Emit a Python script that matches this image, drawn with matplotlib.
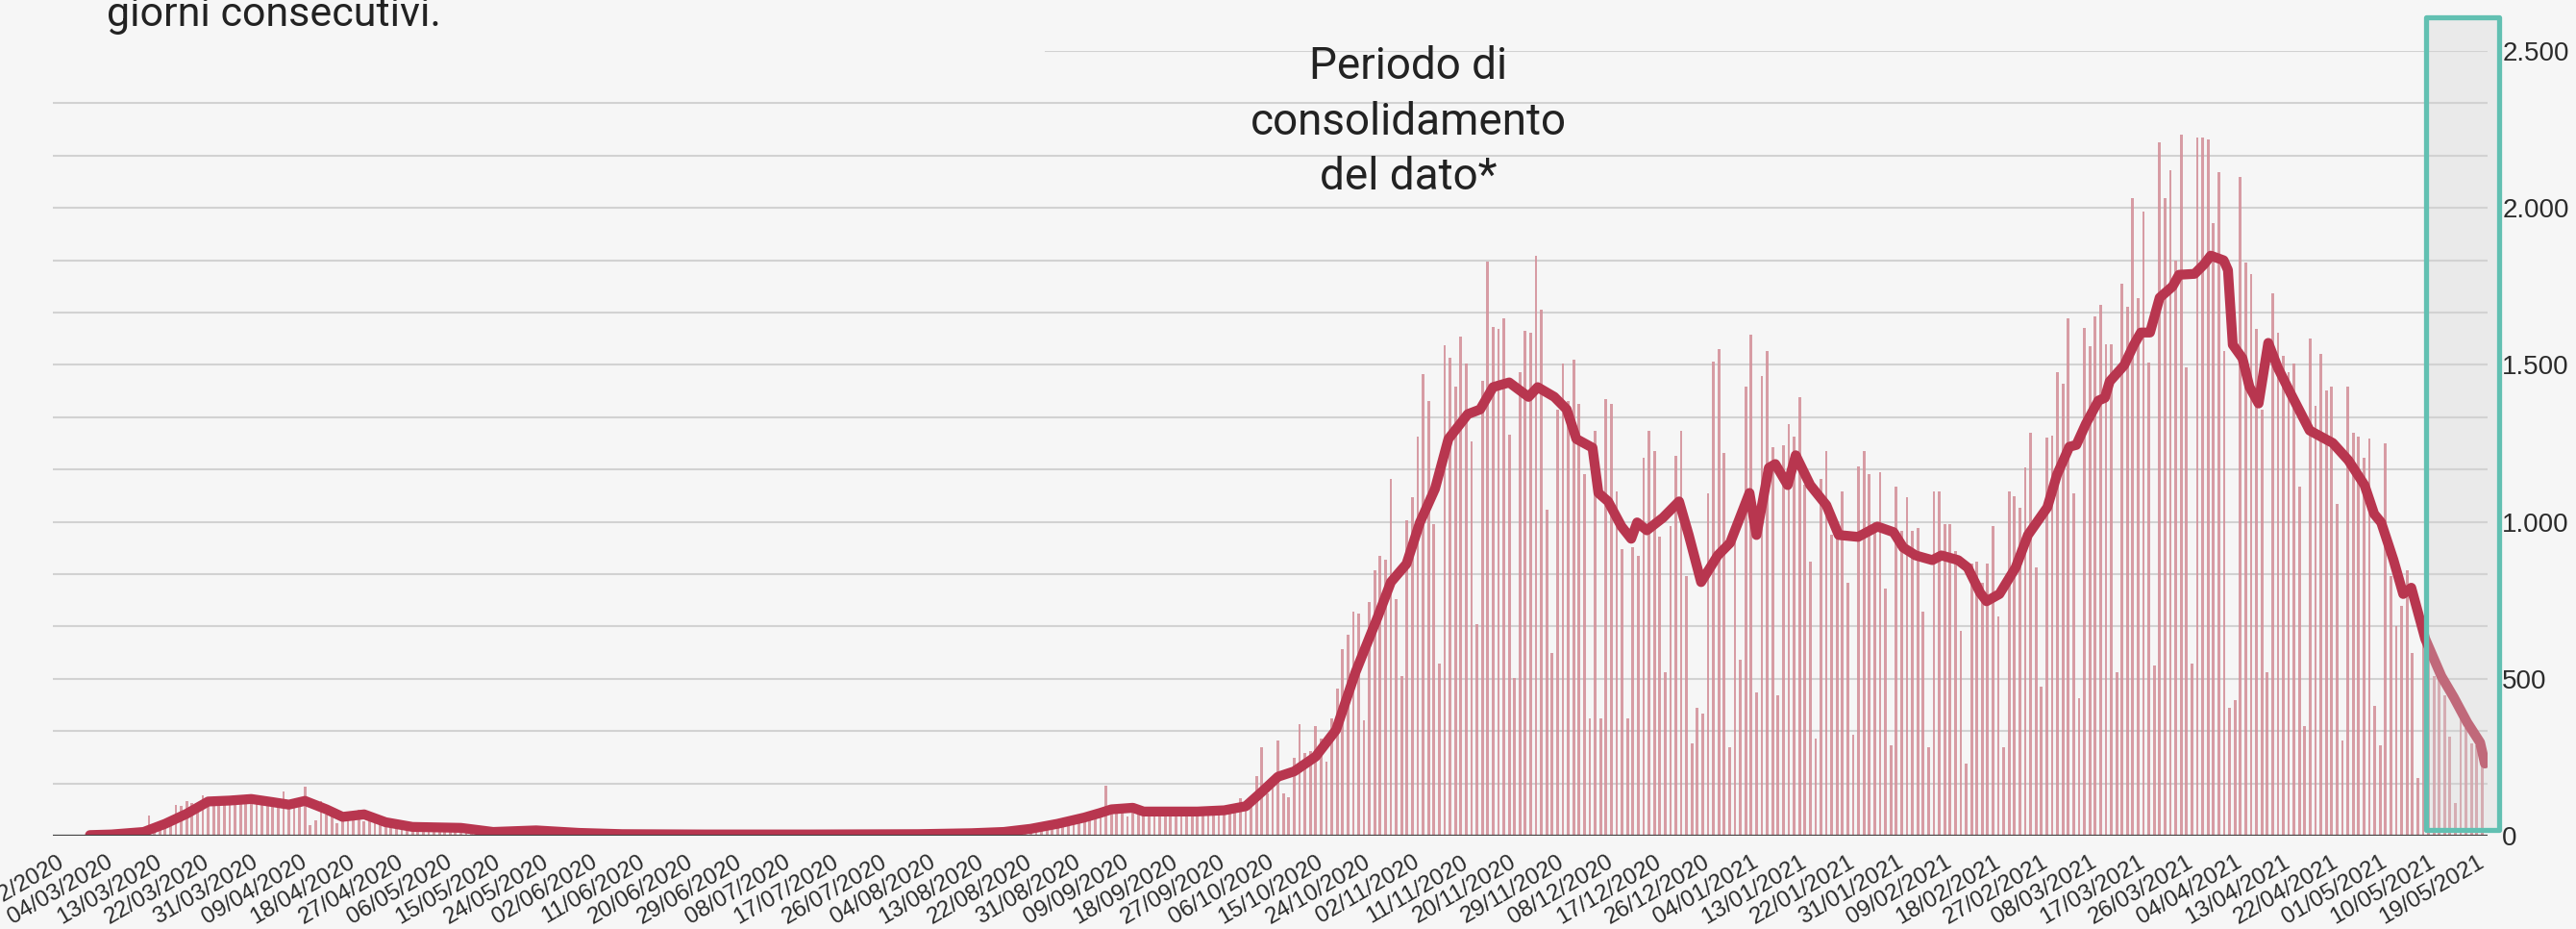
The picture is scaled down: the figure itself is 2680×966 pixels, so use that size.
import numpy as np
import pandas as pd
import matplotlib
matplotlib.use("Agg")
import matplotlib.pyplot as plt
from matplotlib.patches import Rectangle
from matplotlib.colors import to_rgba

W, H = 2680, 966
BG = "#f6f6f6"

# ---- Data ----
start_date = "24/02/2020"

# daily values, one per day starting 24/02/2020
daily_values = [
    0, 0, 1, 0, 0, 1, 2, 1, 2, 3,
    4, 3, 6, 8, 10, 12, 15, 63, 24, 30,
    52, 46, 99, 94, 109, 104, 82, 130, 118, 112,
    114, 106, 120, 110, 118, 124, 108, 122, 114, 104,
    98, 106, 140, 92, 108, 118, 155, 33, 48, 110,
    68, 72, 40, 55, 62, 58, 84, 46, 50, 40,
    36, 42, 30, 28, 25, 34, 22, 30, 26, 20,
    24, 28, 22, 18, 30, 26, 20, 15, 12, 10,
    10, 12, 8, 14, 18, 20, 15, 16, 12, 10,
    8, 10, 9, 6, 8, 7, 10, 5, 6, 5,
    4, 6, 5, 3, 5, 4, 6, 3, 4, 5,
    3, 5, 4, 2, 4, 3, 5, 4, 3, 4,
    2, 4, 3, 5, 3, 4, 2, 3, 4, 3,
    4, 3, 5, 2, 4, 3, 4, 5, 3, 4,
    3, 4, 6, 3, 5, 4, 3, 5, 6, 4,
    5, 4, 6, 5, 3, 6, 5, 4, 7, 6,
    5, 7, 6, 4, 8, 6, 7, 9, 8, 6,
    9, 8, 11, 7, 12, 10, 14, 18, 20, 22,
    28, 32, 30, 38, 42, 40, 50, 55, 50, 62,
    58, 68, 75, 60, 88, 160, 92, 95, 98, 62,
    82, 75, 80, 72, 78, 65, 80, 85, 70, 82,
    62, 76, 84, 90, 74, 86, 88, 70, 96, 102,
    118, 112,
    # 14/10/2020 ->
    110, 189, 282, 136, 163, 302, 136, 123, 249, 355, 262, 269, 348, 309, 236, 375,
    468, 594, 640, 713, 707, 368, 746, 846, 892, 879, 1138, 753, 508, 1005, 1078,
    1271, 1470, 1384, 992, 548, 1563, 1523, 1430, 1589, 1503, 1257, 674, 1450, 1828,
    1622, 1616,
    1649, 1277, 501, 1476, 1609, 1602, 1848, 1675, 1038, 581, 1357, 1503, 1384, 1516,
    1377, 1151, 375, 1291, 375, 1390, 1377, 1098, 912, 375, 919, 892, 1204, 1291, 1224,
    952, 521, 985, 1211, 1291, 826, 295, 408, 388, 1092, 1510, 1549, 1218, 282, 946,
    561, 1430,
    1596, 455, 1463, 1543, 1238, 448, 1244, 1311, 1271, 1397, 1118, 873, 309, 1138,
    1224, 959, 946, 1098, 806, 322, 1178, 1224, 1151, 999, 1158, 786, 289, 1111, 972,
    1078, 972, 979, 713, 282, 1098, 1098, 992, 992, 906, 654, 229, 866, 873, 806, 866,
    985, 700,
    283, 1098, 1083, 1046, 1172, 1284, 854, 475, 1269, 1276, 1476, 1439, 1647, 1091,
    438, 1617, 1558, 1654, 1691, 1565, 1565, 520, 1758, 1684, 2032, 1714, 1988, 1506,
    542, 2210, 2032, 2121, 1832, 2233, 1491, 549, 2225, 2225, 2218, 1951, 2114, 1543,
    409, 431, 2099, 1825, 1788,
    1616, 1357, 521, 1729, 1602, 1529, 1476, 1503, 1112, 348, 1583, 1370, 1536, 1417,
    1430, 1058, 302, 1430, 1284, 1271, 1204, 1264, 415, 289, 1251, 826, 667, 733, 846,
    581, 183, 614, 560, 508, 501, 448, 315, 103, 382, 342, 295, 289, 281,
]

# moving average line: (days since 24/02/2020, value)
avg_days = [
    6, 10, 16, 20, 24, 28, 32, 36, 40, 43, 46, 50, 53, 57, 61, 66, 75, 81, 89, 97,
    105, 120, 140, 160, 170, 176, 181, 186, 191, 194, 196, 200, 202, 212, 217, 221,
    224, 227, 230, 234, 237.8, 241.4, 245.5, 248, 250.9, 253.4, 256.2, 258.7, 262.3,
    264.6, 267, 270, 273.6, 275.3, 278.4, 280.7, 282.5, 285.5, 286.6, 288.4, 290.9,
    292.7, 293.8, 295.6, 298.6, 301.6, 303.4, 305.7, 308.8, 311.1, 314.7, 316,
    318.3, 319.5, 321.8, 323.3, 326, 329, 331.3, 334.9, 338.5, 341.5, 343.3, 345.6,
    348.7, 350.4, 353.5, 355.3, 357.6, 358.8, 361.2, 364.2, 366.5, 370.1, 371.9,
    374.2, 375.5, 377.3, 379.6, 380.8, 381.7, 384.4, 386.2, 387.5, 389.2, 391,
    393.4, 394.6, 397.5, 399.3, 400.5, 402.9, 403.7, 404.6, 406.4, 407.7, 409.4,
    411.2, 413, 415.3, 418.9, 423.2, 426.1, 429.1, 430.9, 432.2, 434.5, 436.3,
    437.8, 440.4, 443.4, 445.7, 448.2, 450.6, 451.5,
]
avg_values = [
    2, 4, 12, 38, 70, 109, 112, 117, 107, 99, 111, 84, 60, 68, 43, 28, 25, 12, 17, 9,
    5, 4, 4, 5, 8, 12, 22, 38, 58, 73, 84, 89, 77, 77, 81, 94,
    140, 188, 205, 252, 337, 520, 695, 808, 866, 998, 1105, 1264, 1343,
    1358, 1429, 1444, 1398, 1429, 1398, 1358, 1264, 1236, 1092, 1065, 985,
    946, 998, 973, 1013, 1065, 958, 808, 893, 933, 1092, 958,
    1172, 1184, 1117, 1212, 1117, 1053, 958, 952, 985, 967, 918, 893,
    878, 893, 878, 854, 774, 747, 770, 854, 958, 1046, 1150,
    1239, 1245, 1313, 1386, 1395, 1447, 1499, 1564, 1603, 1603, 1714,
    1750, 1787, 1790, 1821, 1848, 1833, 1802, 1564, 1521, 1430, 1377,
    1570, 1490, 1411, 1291, 1251, 1196, 1117, 1025, 998, 878, 770,
    790, 627, 508, 441, 361, 297, 230,
]

tick_labels = [
    "24/02/2020", "04/03/2020", "13/03/2020", "22/03/2020", "31/03/2020",
    "09/04/2020", "18/04/2020", "27/04/2020", "06/05/2020", "15/05/2020",
    "24/05/2020", "02/06/2020", "11/06/2020", "20/06/2020", "29/06/2020",
    "08/07/2020", "17/07/2020", "26/07/2020", "04/08/2020", "13/08/2020",
    "22/08/2020", "31/08/2020", "09/09/2020", "18/09/2020", "27/09/2020",
    "06/10/2020", "15/10/2020", "24/10/2020", "02/11/2020", "11/11/2020",
    "20/11/2020", "29/11/2020", "08/12/2020", "17/12/2020", "26/12/2020",
    "04/01/2021", "13/01/2021", "22/01/2021", "31/01/2021", "09/02/2021",
    "18/02/2021", "27/02/2021", "08/03/2021", "17/03/2021", "26/03/2021",
    "04/04/2021", "13/04/2021", "22/04/2021", "01/05/2021", "10/05/2021",
    "19/05/2021",
]

y_ticks = [0, 500, 1000, 1500, 2000, 2500]
y_tick_labels = ["0", "500", "1.000", "1.500", "2.000", "2.500"]

# consolidation period (last days of the series)
consol_start, consol_end = "10/05/2021", "23/05/2021"

# ---- Helpers ----
t0 = pd.to_datetime(start_date, dayfirst=True)
def day_of(s):
    return (pd.to_datetime(s, dayfirst=True) - t0).days

days = np.arange(len(daily_values))
tick_days = [day_of(s) for s in tick_labels]

# ---- Figure ----
fig = plt.figure(figsize=(W / 100, H / 100), dpi=100, facecolor=BG)
left, right, bottom, top = 55, 2588, 869, 53
ax = fig.add_axes([left / W, 1 - bottom / H, (right - left) / W, (bottom - top) / H])
ax.set_facecolor(BG)

px_per_day = 5.593
ax.set_xlim((left - 60) / px_per_day, (right - 60) / px_per_day)
ax.set_ylim(0, 2500)

for s in ax.spines.values():
    s.set_visible(False)

# gridlines every 500/3
for i, v in enumerate(np.linspace(0, 2500, 16)):
    xmin = (1088 - left) / (right - left) if i == 15 else 0
    ax.axhline(v, xmin=xmin, color="#d2d2d2", lw=1.5, zorder=1)
ax.axhline(0, color="#444444", lw=1.6, zorder=4)

# bars
ax.bar(days, daily_values, width=0.5, color="#d4929b", alpha=0.9, lw=0, zorder=2)

# moving average
ax.plot(avg_days, avg_values, color="#b8364f", lw=7.4, solid_capstyle="round",
        solid_joinstyle="round", zorder=3)

# consolidation box
x0 = day_of(consol_start) - 0.4
x1 = day_of(consol_end) + 0.2
box = Rectangle((x0, 17), x1 - x0, 2606 - 17,
                facecolor=to_rgba("#d2d2d2", 0.33), edgecolor="#62c0b2",
                lw=3.8, joinstyle="round", clip_on=False, zorder=6)
ax.add_patch(box)

# ticks
ax.yaxis.tick_right()
ax.set_yticks(y_ticks, y_tick_labels)
ax.tick_params(axis="y", length=0, pad=11, labelsize=20, labelcolor="#2b2b2b")
ax.set_xticks(tick_days, tick_labels, rotation=30, ha="right", va="top",
              rotation_mode="anchor")
ax.tick_params(axis="x", length=0, pad=12, labelsize=17.5, labelcolor="#2b2b2b")
for lab in ax.get_xticklabels() + ax.get_yticklabels():
    lab.set_fontfamily("Liberation Sans")

# texts
fig.text(111 / W, 1 - 27 / H, "giorni consecutivi.", fontsize=31,
         family="Roboto", color="#222222", va="baseline", ha="left")
for k, line in enumerate(["Periodo di", "consolidamento", "del dato*"]):
    fig.text(1465 / W, 1 - (82 + 57.5 * k) / H, line, fontsize=33,
             family="Roboto", color="#222222", va="baseline", ha="center")

fig.savefig("out.png", dpi=100, facecolor=BG)
